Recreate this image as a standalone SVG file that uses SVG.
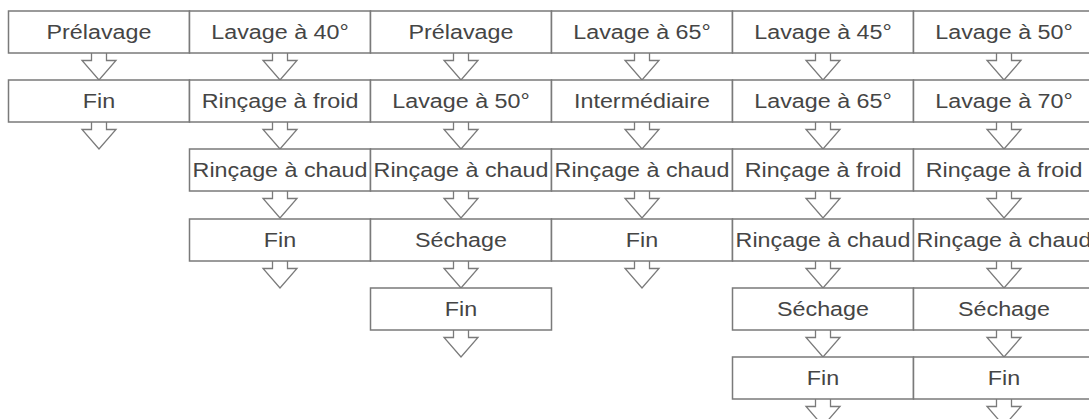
<svg xmlns="http://www.w3.org/2000/svg" width="1089" height="419" viewBox="0 0 1089 419">
<style>
.box{fill:#fff;stroke:#7a7a7a;stroke-width:1.5}
.lbl{font-family:"Liberation Sans",Arial,sans-serif;font-size:21px;fill:#454545;text-anchor:middle}
.arr{fill:#fff;stroke:#7a7a7a;stroke-width:1.3}
</style>
<defs>
<path id="a" class="arr" d="M-7.5,0 V7.5 H-17 L0,27 L17,7.5 H7.5 V0"/>
</defs>
<g id="connectors">
<use href="#a" x="99" y="53"/><use href="#a" x="99" y="122"/>
<use href="#a" x="280" y="53"/><use href="#a" x="280" y="122"/><use href="#a" x="280" y="191"/><use href="#a" x="280" y="261"/>
<use href="#a" x="461" y="53"/><use href="#a" x="461" y="122"/><use href="#a" x="461" y="191"/><use href="#a" x="461" y="261"/><use href="#a" x="461" y="330"/>
<use href="#a" x="642" y="53"/><use href="#a" x="642" y="122"/><use href="#a" x="642" y="191"/><use href="#a" x="642" y="261"/>
<use href="#a" x="823" y="53"/><use href="#a" x="823" y="122"/><use href="#a" x="823" y="191"/><use href="#a" x="823" y="261"/><use href="#a" x="823" y="330"/><use href="#a" x="823" y="399"/>
<use href="#a" x="1004" y="53"/><use href="#a" x="1004" y="122"/><use href="#a" x="1004" y="191"/><use href="#a" x="1004" y="261"/><use href="#a" x="1004" y="330"/><use href="#a" x="1004" y="399"/>
</g>
<g id="c0r0"><rect class="box" x="8.5" y="11" width="181" height="42"/><text class="lbl" transform="translate(99,38.5) scale(1.11,1)">Prélavage</text></g>
<g id="c0r1"><rect class="box" x="8.5" y="80" width="181" height="42"/><text class="lbl" transform="translate(99,107.5) scale(1.11,1)">Fin</text></g>

<g id="c1r0"><rect class="box" x="189.5" y="11" width="181" height="42"/><text class="lbl" transform="translate(280,38.5) scale(1.11,1)">Lavage à 40°</text></g>
<g id="c1r1"><rect class="box" x="189.5" y="80" width="181" height="42"/><text class="lbl" transform="translate(280,107.5) scale(1.11,1)">Rinçage à froid</text></g>
<g id="c1r2"><rect class="box" x="189.5" y="149" width="181" height="42"/><text class="lbl" transform="translate(280,176.5) scale(1.11,1)">Rinçage à chaud</text></g>
<g id="c1r3"><rect class="box" x="189.5" y="219" width="181" height="42"/><text class="lbl" transform="translate(280,246.5) scale(1.11,1)">Fin</text></g>

<g id="c2r0"><rect class="box" x="370.5" y="11" width="181" height="42"/><text class="lbl" transform="translate(461,38.5) scale(1.11,1)">Prélavage</text></g>
<g id="c2r1"><rect class="box" x="370.5" y="80" width="181" height="42"/><text class="lbl" transform="translate(461,107.5) scale(1.11,1)">Lavage à 50°</text></g>
<g id="c2r2"><rect class="box" x="370.5" y="149" width="181" height="42"/><text class="lbl" transform="translate(461,176.5) scale(1.11,1)">Rinçage à chaud</text></g>
<g id="c2r3"><rect class="box" x="370.5" y="219" width="181" height="42"/><text class="lbl" transform="translate(461,246.5) scale(1.11,1)">Séchage</text></g>
<g id="c2r4"><rect class="box" x="370.5" y="288" width="181" height="42"/><text class="lbl" transform="translate(461,315.5) scale(1.11,1)">Fin</text></g>

<g id="c3r0"><rect class="box" x="551.5" y="11" width="181" height="42"/><text class="lbl" transform="translate(642,38.5) scale(1.11,1)">Lavage à 65°</text></g>
<g id="c3r1"><rect class="box" x="551.5" y="80" width="181" height="42"/><text class="lbl" transform="translate(642,107.5) scale(1.11,1)">Intermédiaire</text></g>
<g id="c3r2"><rect class="box" x="551.5" y="149" width="181" height="42"/><text class="lbl" transform="translate(642,176.5) scale(1.11,1)">Rinçage à chaud</text></g>
<g id="c3r3"><rect class="box" x="551.5" y="219" width="181" height="42"/><text class="lbl" transform="translate(642,246.5) scale(1.11,1)">Fin</text></g>

<g id="c4r0"><rect class="box" x="732.5" y="11" width="181" height="42"/><text class="lbl" transform="translate(823,38.5) scale(1.11,1)">Lavage à 45°</text></g>
<g id="c4r1"><rect class="box" x="732.5" y="80" width="181" height="42"/><text class="lbl" transform="translate(823,107.5) scale(1.11,1)">Lavage à 65°</text></g>
<g id="c4r2"><rect class="box" x="732.5" y="149" width="181" height="42"/><text class="lbl" transform="translate(823,176.5) scale(1.11,1)">Rinçage à froid</text></g>
<g id="c4r3"><rect class="box" x="732.5" y="219" width="181" height="42"/><text class="lbl" transform="translate(823,246.5) scale(1.11,1)">Rinçage à chaud</text></g>
<g id="c4r4"><rect class="box" x="732.5" y="288" width="181" height="42"/><text class="lbl" transform="translate(823,315.5) scale(1.11,1)">Séchage</text></g>
<g id="c4r5"><rect class="box" x="732.5" y="357" width="181" height="42"/><text class="lbl" transform="translate(823,384.5) scale(1.11,1)">Fin</text></g>

<g id="c5r0"><rect class="box" x="913.5" y="11" width="181" height="42"/><text class="lbl" transform="translate(1004,38.5) scale(1.11,1)">Lavage à 50°</text></g>
<g id="c5r1"><rect class="box" x="913.5" y="80" width="181" height="42"/><text class="lbl" transform="translate(1004,107.5) scale(1.11,1)">Lavage à 70°</text></g>
<g id="c5r2"><rect class="box" x="913.5" y="149" width="181" height="42"/><text class="lbl" transform="translate(1004,176.5) scale(1.11,1)">Rinçage à froid</text></g>
<g id="c5r3"><rect class="box" x="913.5" y="219" width="181" height="42"/><text class="lbl" transform="translate(1004,246.5) scale(1.11,1)">Rinçage à chaud</text></g>
<g id="c5r4"><rect class="box" x="913.5" y="288" width="181" height="42"/><text class="lbl" transform="translate(1004,315.5) scale(1.11,1)">Séchage</text></g>
<g id="c5r5"><rect class="box" x="913.5" y="357" width="181" height="42"/><text class="lbl" transform="translate(1004,384.5) scale(1.11,1)">Fin</text></g>
</svg>
